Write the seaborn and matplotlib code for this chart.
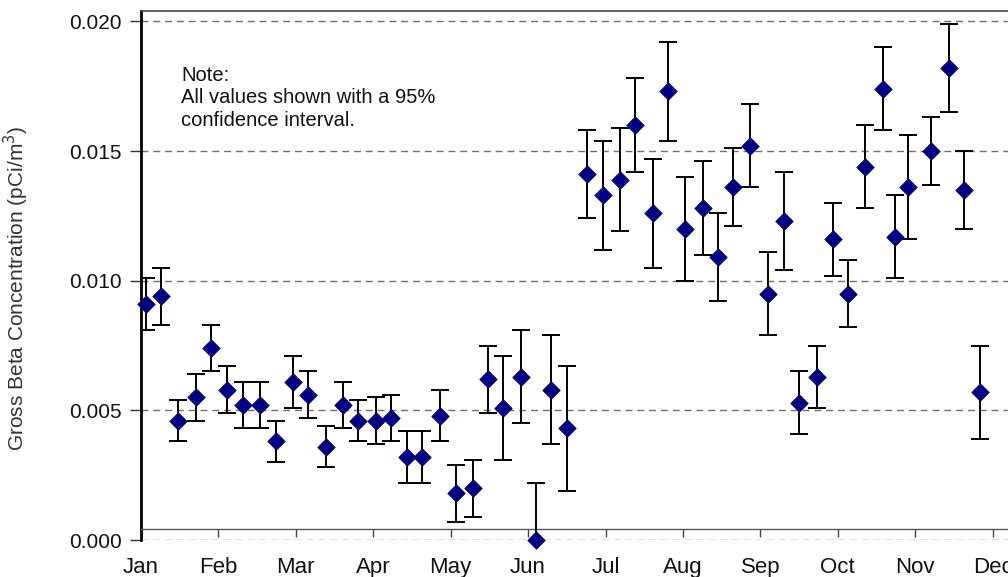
import numpy as np
import pandas as pd
import matplotlib
matplotlib.use("Agg")
import matplotlib.pyplot as plt
import seaborn as sns

# ---- data ----
sample_dates = ["01-03", "01-09", "01-16", "01-23", "01-29", "02-04", "02-10", "02-16",
                "02-22", "02-28", "03-06", "03-13", "03-20", "03-26", "04-02", "04-08",
                "04-14", "04-20", "04-27", "05-03", "05-10", "05-16", "05-22", "05-29",
                "06-04", "06-10", "06-16", "06-24", "06-30", "07-07", "07-13", "07-20",
                "07-26", "08-02", "08-09", "08-15", "08-21", "08-28", "09-04", "09-10",
                "09-16", "09-23", "09-29", "10-05", "10-12", "10-19", "10-24", "10-29",
                "11-07", "11-14", "11-20", "11-26"]
concentration = [0.0091, 0.0094, 0.0046, 0.0055, 0.0074, 0.0058, 0.0052, 0.0052,
                 0.0038, 0.0061, 0.0056, 0.0036, 0.0052, 0.0046, 0.0046, 0.0047,
                 0.0032, 0.0032, 0.0048, 0.0018, 0.0020, 0.0062, 0.0051, 0.0063,
                 0.0000, 0.0058, 0.0043, 0.0141, 0.0133, 0.0139, 0.0160, 0.0126,
                 0.0173, 0.0120, 0.0128, 0.0109, 0.0136, 0.0152, 0.0095, 0.0123,
                 0.0053, 0.0063, 0.0116, 0.0095, 0.0144, 0.0174, 0.0117, 0.0136,
                 0.0150, 0.0182, 0.0135, 0.0057]
ci95 = [0.0010, 0.0011, 0.0008, 0.0009, 0.0009, 0.0009, 0.0009, 0.0009,
        0.0008, 0.0010, 0.0009, 0.0008, 0.0009, 0.0008, 0.0009, 0.0009,
        0.0010, 0.0010, 0.0010, 0.0011, 0.0011, 0.0013, 0.0020, 0.0018,
        0.0022, 0.0021, 0.0024, 0.0017, 0.0021, 0.0020, 0.0018, 0.0021,
        0.0019, 0.0020, 0.0018, 0.0017, 0.0015, 0.0016, 0.0016, 0.0019,
        0.0012, 0.0012, 0.0014, 0.0013, 0.0016, 0.0016, 0.0016, 0.0020,
        0.0013, 0.0017, 0.0015, 0.0018]
month_labels = ["Jan", "Feb", "Mar", "Apr", "May", "Jun",
                "Jul", "Aug", "Sep", "Oct", "Nov", "Dec"]
y_ticks = [0.000, 0.005, 0.010, 0.015, 0.020]
note_text = "Note:\nAll values shown with a 95%\nconfidence interval."

days_in_month = [31, 28, 31, 30, 31, 30, 31, 31, 30, 31, 30, 31]


def month_position(s):
    m, d = (int(v) for v in s.split("-"))
    return (m - 1) + (d - 1) / days_in_month[m - 1]


df = pd.DataFrame({
    "month": [month_position(s) for s in sample_dates],
    "conc": concentration,
    "err": ci95,
})

# ---- figure ----
sns.set_theme(style="white")
plt.rcParams["font.family"] = ["Liberation Sans", "DejaVu Sans"]

fig = plt.figure(figsize=(10.08, 5.77), dpi=100)
ax = fig.add_axes([141 / 1008, 37 / 577, 929 / 1008, 529 / 577])

ax.errorbar(df["month"], df["conc"], yerr=df["err"], fmt="none",
            ecolor="black", elinewidth=1.4, capsize=6.5, capthick=1.4, zorder=3)
sns.scatterplot(data=df, x="month", y="conc", marker="D", s=80, color="#000080",
                edgecolor="#000080", linewidth=0.5, ax=ax, zorder=4, clip_on=False,
                legend=False)

ax.set_xlim(0, 12)
ax.set_ylim(0, 0.0204)

ax.set_yticks(y_ticks)
ax.set_yticklabels([f"{v:.3f}" for v in y_ticks])
ax.yaxis.grid(True, linestyle=(0, (5, 3.5)), color="#707070", linewidth=1.0)
ax.xaxis.grid(False)

ax.set_xticks(np.arange(12))
ax.set_xticklabels(month_labels)

ax.tick_params(axis="y", which="major", left=True, length=8, width=1,
               color="#333333", pad=6, labelsize=15, labelcolor="#111111")
ax.tick_params(axis="x", which="major", bottom=True, length=6, width=1,
               color="#444444", pad=14, labelsize=16, labelcolor="#111111")

for side in ["left", "top", "right", "bottom"]:
    ax.spines[side].set_visible(True)
ax.spines["left"].set_color("black")
ax.spines["left"].set_linewidth(2)
ax.spines["top"].set_color("#444444")
ax.spines["top"].set_linewidth(1.2)
ax.spines["right"].set_color("#444444")
ax.spines["bottom"].set_color("#555555")
ax.spines["bottom"].set_linewidth(1.0)
ax.spines["bottom"].set_position(("data", 0.00042))

ax.set_xlabel("")
ax.set_ylabel("Gross Beta Concentration (pCi/m$^3$)", fontsize=15,
              color="#333333")
ax.yaxis.set_label_coords(-(141 - 31) / 929, 0.475)

ax.text(0.52, 0.01828, note_text, fontsize=14.5, color="#111111",
        va="top", ha="left", linespacing=1.22)

fig.savefig("out.png", dpi=100)
